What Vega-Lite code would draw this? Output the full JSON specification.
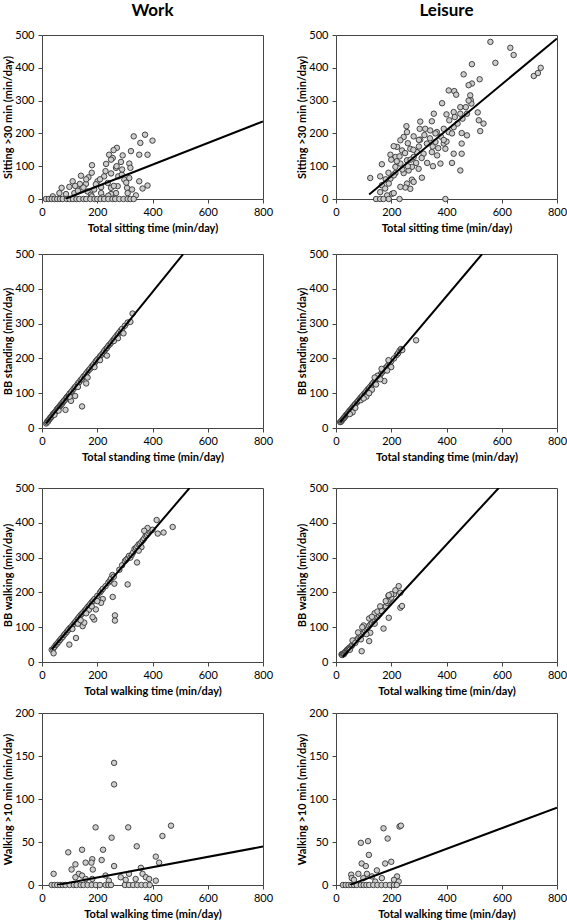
{
"$schema": "https://vega.github.io/schema/vega-lite/v6.json",
"padding": {"left": 2, "top": 1, "right": 0, "bottom": 0},
"autosize": {"type": "pad"},
"config": {
  "font": "Lato",
  "view": {"stroke": "#444", "strokeWidth": 1},
  "axis": {"grid": false, "domain": false, "tickColor": "#444", "tickSize": 4, "labelFontSize": 11, "labelColor": "#000", "titleFontSize": 11, "titleFontWeight": "bold", "titleColor": "#000", "labelPadding": 3, "labelOverlap": false, "labelFlush": false},
  "axisX": {"titlePadding": 5},
  "axisY": {"titlePadding": 1, "labelPadding": 4},
  "title": {"fontSize": 17, "fontWeight": "bold", "color": "#000", "offset": 9}
},
"datasets": {
"lines": [
{"p":1,"x":85,"y":0.6},{"p":1,"x":800,"y":236.6},
{"p":2,"x":120,"y":13.6},{"p":2,"x":800,"y":489.6},
{"p":3,"x":15,"y":13.5},{"p":3,"x":511,"y":499.6},
{"p":4,"x":15,"y":16.8},{"p":4,"x":529,"y":500},
{"p":5,"x":35,"y":35.9},{"p":5,"x":534,"y":500},
{"p":6,"x":25,"y":15},{"p":6,"x":589,"y":500},
{"p":7,"x":55,"y":0.02},{"p":7,"x":800,"y":44.7},
{"p":8,"x":50,"y":0},{"p":8,"x":800,"y":90}
],
"eq": [
{"p":1,"t":"y = -27.42 + 0.33x"},{"p":2,"t":"y = -70.43 + 0.70x"},
{"p":3,"t":"y = -1.21 + 0.98x"},{"p":4,"t":"y = 2.67 + 0.94x"},
{"p":5,"t":"y = 3.34 + 0.93x"},{"p":6,"t":"y = -6.5 + 0.86x"},
{"p":7,"t":"y = -3.28 + 0.06x"},{"p":8,"t":"y = -6.04 + 0.12x"}
],
"pts": [
{"p":1,"x":332,"y":191},{"p":1,"x":373,"y":196},{"p":1,"x":400,"y":178},{"p":1,"x":356,"y":171},{"p":1,"x":352,"y":135},{"p":1,"x":382,"y":135},{"p":1,"x":322,"y":146},{"p":1,"x":271,"y":156},{"p":1,"x":259,"y":149},{"p":1,"x":243,"y":135},{"p":1,"x":256,"y":125},{"p":1,"x":292,"y":133},{"p":1,"x":286,"y":113},{"p":1,"x":316,"y":108},{"p":1,"x":320,"y":95},{"p":1,"x":232,"y":107},{"p":1,"x":181,"y":103},{"p":1,"x":180,"y":80},{"p":1,"x":141,"y":71},{"p":1,"x":111,"y":54},{"p":1,"x":71,"y":34},{"p":1,"x":99,"y":37},{"p":1,"x":137,"y":46},{"p":1,"x":159,"y":46},{"p":1,"x":168,"y":66},{"p":1,"x":201,"y":54},{"p":1,"x":225,"y":69},{"p":1,"x":250,"y":78},{"p":1,"x":268,"y":95},{"p":1,"x":276,"y":69},{"p":1,"x":289,"y":74},{"p":1,"x":298,"y":59},{"p":1,"x":316,"y":64},{"p":1,"x":238,"y":49},{"p":1,"x":214,"y":36},{"p":1,"x":189,"y":29},{"p":1,"x":165,"y":23},{"p":1,"x":141,"y":29},{"p":1,"x":250,"y":34},{"p":1,"x":274,"y":39},{"p":1,"x":308,"y":34},{"p":1,"x":326,"y":29},{"p":1,"x":352,"y":54},{"p":1,"x":382,"y":41},{"p":1,"x":364,"y":32},{"p":1,"x":340,"y":11},{"p":1,"x":310,"y":18},{"p":1,"x":268,"y":18},{"p":1,"x":250,"y":15},{"p":1,"x":214,"y":18},{"p":1,"x":177,"y":13},{"p":1,"x":117,"y":18},{"p":1,"x":87,"y":15},{"p":1,"x":63,"y":18},{"p":1,"x":39,"y":8},{"p":1,"x":250,"y":120},{"p":1,"x":270,"y":100},{"p":1,"x":230,"y":85},{"p":1,"x":210,"y":60},{"p":1,"x":195,"y":45},{"p":1,"x":160,"y":60},{"p":1,"x":150,"y":35},{"p":1,"x":130,"y":25},{"p":1,"x":120,"y":40},{"p":1,"x":290,"y":90},{"p":1,"x":305,"y":50},{"p":1,"x":260,"y":40},{"p":1,"x":240,"y":10},{"p":1,"x":220,"y":5},{"p":1,"x":180,"y":8},
{"p":1,"x":14,"y":0},{"p":1,"x":25,"y":0},{"p":1,"x":35,"y":0},{"p":1,"x":45,"y":0},{"p":1,"x":55,"y":0},{"p":1,"x":65,"y":0},{"p":1,"x":75,"y":0},{"p":1,"x":90,"y":0},{"p":1,"x":100,"y":0},{"p":1,"x":112,"y":0},{"p":1,"x":125,"y":0},{"p":1,"x":135,"y":0},{"p":1,"x":150,"y":0},{"p":1,"x":160,"y":0},{"p":1,"x":175,"y":0},{"p":1,"x":190,"y":0},{"p":1,"x":200,"y":0},{"p":1,"x":212,"y":0},{"p":1,"x":225,"y":0},{"p":1,"x":240,"y":0},{"p":1,"x":255,"y":0},{"p":1,"x":265,"y":0},{"p":1,"x":280,"y":0},{"p":1,"x":295,"y":0},{"p":1,"x":310,"y":0},{"p":1,"x":320,"y":0},{"p":1,"x":332,"y":0},
{"p":2,"x":559,"y":479},{"p":2,"x":631,"y":461},{"p":2,"x":643,"y":439},{"p":2,"x":577,"y":415},{"p":2,"x":492,"y":411},{"p":2,"x":462,"y":380},{"p":2,"x":520,"y":365},{"p":2,"x":492,"y":352},{"p":2,"x":480,"y":347},{"p":2,"x":408,"y":331},{"p":2,"x":428,"y":329},{"p":2,"x":435,"y":318},{"p":2,"x":384,"y":292},{"p":2,"x":486,"y":316},{"p":2,"x":488,"y":301},{"p":2,"x":490,"y":291},{"p":2,"x":716,"y":375},{"p":2,"x":731,"y":384},{"p":2,"x":741,"y":400},{"p":2,"x":513,"y":264},{"p":2,"x":474,"y":260},{"p":2,"x":458,"y":245},{"p":2,"x":426,"y":265},{"p":2,"x":450,"y":280},{"p":2,"x":400,"y":258},{"p":2,"x":354,"y":260},{"p":2,"x":347,"y":237},{"p":2,"x":305,"y":236},{"p":2,"x":303,"y":214},{"p":2,"x":323,"y":214},{"p":2,"x":341,"y":209},{"p":2,"x":365,"y":204},{"p":2,"x":390,"y":214},{"p":2,"x":408,"y":204},{"p":2,"x":426,"y":219},{"p":2,"x":455,"y":201},{"p":2,"x":522,"y":207},{"p":2,"x":534,"y":230},{"p":2,"x":517,"y":240},{"p":2,"x":474,"y":194},{"p":2,"x":455,"y":169},{"p":2,"x":455,"y":138},{"p":2,"x":450,"y":87},{"p":2,"x":420,"y":110},{"p":2,"x":378,"y":108},{"p":2,"x":351,"y":100},{"p":2,"x":390,"y":169},{"p":2,"x":360,"y":174},{"p":2,"x":329,"y":169},{"p":2,"x":305,"y":181},{"p":2,"x":281,"y":191},{"p":2,"x":257,"y":204},{"p":2,"x":255,"y":222},{"p":2,"x":245,"y":189},{"p":2,"x":233,"y":179},{"p":2,"x":221,"y":159},{"p":2,"x":209,"y":161},{"p":2,"x":197,"y":135},{"p":2,"x":215,"y":128},{"p":2,"x":239,"y":148},{"p":2,"x":269,"y":153},{"p":2,"x":293,"y":143},{"p":2,"x":317,"y":138},{"p":2,"x":347,"y":143},{"p":2,"x":366,"y":133},{"p":2,"x":396,"y":153},{"p":2,"x":426,"y":138},{"p":2,"x":281,"y":128},{"p":2,"x":257,"y":118},{"p":2,"x":233,"y":108},{"p":2,"x":215,"y":98},{"p":2,"x":275,"y":98},{"p":2,"x":299,"y":92},{"p":2,"x":311,"y":65},{"p":2,"x":263,"y":87},{"p":2,"x":245,"y":79},{"p":2,"x":197,"y":62},{"p":2,"x":215,"y":79},{"p":2,"x":257,"y":47},{"p":2,"x":275,"y":59},{"p":2,"x":281,"y":52},{"p":2,"x":269,"y":31},{"p":2,"x":251,"y":35},{"p":2,"x":233,"y":37},{"p":2,"x":209,"y":72},{"p":2,"x":166,"y":106},{"p":2,"x":160,"y":69},{"p":2,"x":124,"y":64},{"p":2,"x":166,"y":42},{"p":2,"x":178,"y":32},{"p":2,"x":191,"y":47},{"p":2,"x":203,"y":16},{"p":2,"x":185,"y":11},{"p":2,"x":160,"y":21},{"p":2,"x":209,"y":18},
{"p":2,"x":145,"y":0},{"p":2,"x":160,"y":0},{"p":2,"x":172,"y":0},{"p":2,"x":191,"y":0},{"p":2,"x":230,"y":0},{"p":2,"x":396,"y":0},
{"p":2,"x":300,"y":180},{"p":2,"x":320,"y":195},{"p":2,"x":340,"y":185},{"p":2,"x":360,"y":200},{"p":2,"x":380,"y":190},{"p":2,"x":400,"y":175},{"p":2,"x":420,"y":200},{"p":2,"x":440,"y":230},{"p":2,"x":300,"y":160},{"p":2,"x":280,"y":150},{"p":2,"x":260,"y":170},{"p":2,"x":250,"y":140},{"p":2,"x":230,"y":130},{"p":2,"x":270,"y":120},{"p":2,"x":290,"y":110},{"p":2,"x":310,"y":125},{"p":2,"x":330,"y":110},{"p":2,"x":350,"y":160},{"p":2,"x":370,"y":155},{"p":2,"x":390,"y":180},{"p":2,"x":410,"y":240},{"p":2,"x":430,"y":250},{"p":2,"x":450,"y":260},{"p":2,"x":470,"y":280},{"p":2,"x":480,"y":300},{"p":2,"x":260,"y":100},{"p":2,"x":240,"y":90},{"p":2,"x":220,"y":115},{"p":2,"x":200,"y":120},{"p":2,"x":190,"y":80},{"p":2,"x":180,"y":60},
{"p":3,"x":15,"y":13},{"p":3,"x":18,"y":16},{"p":3,"x":20,"y":20},{"p":3,"x":22,"y":19},{"p":3,"x":25,"y":24},{"p":3,"x":28,"y":26},{"p":3,"x":30,"y":30},{"p":3,"x":33,"y":31},{"p":3,"x":35,"y":33},{"p":3,"x":38,"y":37},{"p":3,"x":40,"y":40},{"p":3,"x":43,"y":41},{"p":3,"x":45,"y":44},{"p":3,"x":48,"y":46},{"p":3,"x":50,"y":48},{"p":3,"x":53,"y":52},{"p":3,"x":55,"y":55},{"p":3,"x":58,"y":56},{"p":3,"x":60,"y":58},{"p":3,"x":63,"y":62},{"p":3,"x":65,"y":63},{"p":3,"x":68,"y":67},{"p":3,"x":70,"y":68},{"p":3,"x":73,"y":70},{"p":3,"x":75,"y":74},{"p":3,"x":78,"y":76},{"p":3,"x":80,"y":79},{"p":3,"x":85,"y":82},{"p":3,"x":88,"y":86},{"p":3,"x":90,"y":89},{"p":3,"x":95,"y":93},{"p":3,"x":98,"y":95},{"p":3,"x":100,"y":99},{"p":3,"x":105,"y":103},{"p":3,"x":110,"y":108},{"p":3,"x":115,"y":113},{"p":3,"x":120,"y":118},{"p":3,"x":125,"y":122},{"p":3,"x":130,"y":128},{"p":3,"x":135,"y":132},{"p":3,"x":140,"y":138},{"p":3,"x":145,"y":142},{"p":3,"x":150,"y":148},{"p":3,"x":155,"y":151},{"p":3,"x":160,"y":157},{"p":3,"x":165,"y":162},{"p":3,"x":170,"y":167},{"p":3,"x":175,"y":171},{"p":3,"x":180,"y":177},{"p":3,"x":185,"y":181},{"p":3,"x":190,"y":186},{"p":3,"x":195,"y":192},{"p":3,"x":200,"y":197},{"p":3,"x":205,"y":200},{"p":3,"x":210,"y":206},{"p":3,"x":215,"y":210},{"p":3,"x":220,"y":215},{"p":3,"x":225,"y":221},{"p":3,"x":230,"y":226},{"p":3,"x":235,"y":230},{"p":3,"x":240,"y":236},{"p":3,"x":245,"y":240},{"p":3,"x":250,"y":245},{"p":3,"x":255,"y":250},{"p":3,"x":260,"y":255},{"p":3,"x":265,"y":260},{"p":3,"x":270,"y":265},{"p":3,"x":275,"y":270},{"p":3,"x":280,"y":275},{"p":3,"x":285,"y":280},{"p":3,"x":290,"y":285},{"p":3,"x":300,"y":294},{"p":3,"x":310,"y":303},{"p":3,"x":320,"y":305},{"p":3,"x":328,"y":329},
{"p":3,"x":145,"y":62},{"p":3,"x":85,"y":52},{"p":3,"x":105,"y":78},{"p":3,"x":120,"y":92},{"p":3,"x":160,"y":128},{"p":3,"x":190,"y":175},{"p":3,"x":235,"y":208},{"p":3,"x":295,"y":272},{"p":3,"x":275,"y":258},{"p":3,"x":165,"y":145},{"p":3,"x":130,"y":118},{"p":3,"x":210,"y":195},{"p":3,"x":260,"y":250},{"p":3,"x":100,"y":90},{"p":3,"x":60,"y":50},{"p":3,"x":45,"y":38},
{"p":4,"x":15,"y":17},{"p":4,"x":18,"y":18},{"p":4,"x":20,"y":21},{"p":4,"x":23,"y":23},{"p":4,"x":25,"y":26},{"p":4,"x":28,"y":29},{"p":4,"x":30,"y":30},{"p":4,"x":33,"y":33},{"p":4,"x":35,"y":36},{"p":4,"x":38,"y":38},{"p":4,"x":40,"y":40},{"p":4,"x":43,"y":43},{"p":4,"x":45,"y":45},{"p":4,"x":48,"y":48},{"p":4,"x":50,"y":50},{"p":4,"x":53,"y":52},{"p":4,"x":55,"y":54},{"p":4,"x":58,"y":57},{"p":4,"x":60,"y":60},{"p":4,"x":63,"y":62},{"p":4,"x":65,"y":64},{"p":4,"x":68,"y":67},{"p":4,"x":70,"y":69},{"p":4,"x":75,"y":73},{"p":4,"x":78,"y":76},{"p":4,"x":80,"y":78},{"p":4,"x":85,"y":83},{"p":4,"x":88,"y":85},{"p":4,"x":90,"y":88},{"p":4,"x":95,"y":92},{"p":4,"x":100,"y":97},{"p":4,"x":105,"y":101},{"p":4,"x":110,"y":106},{"p":4,"x":115,"y":111},{"p":4,"x":120,"y":115},{"p":4,"x":125,"y":120},{"p":4,"x":130,"y":125},{"p":4,"x":135,"y":130},{"p":4,"x":140,"y":135},{"p":4,"x":145,"y":140},{"p":4,"x":150,"y":145},{"p":4,"x":155,"y":148},{"p":4,"x":160,"y":153},{"p":4,"x":165,"y":158},{"p":4,"x":170,"y":163},{"p":4,"x":175,"y":168},{"p":4,"x":180,"y":173},{"p":4,"x":185,"y":177},{"p":4,"x":190,"y":182},{"p":4,"x":195,"y":187},{"p":4,"x":200,"y":192},{"p":4,"x":210,"y":200},{"p":4,"x":220,"y":210},{"p":4,"x":225,"y":215},{"p":4,"x":230,"y":222},{"p":4,"x":235,"y":227},{"p":4,"x":240,"y":224},{"p":4,"x":290,"y":252},
{"p":4,"x":175,"y":135},{"p":4,"x":130,"y":110},{"p":4,"x":110,"y":90},{"p":4,"x":90,"y":80},{"p":4,"x":60,"y":45},{"p":4,"x":200,"y":175},{"p":4,"x":185,"y":165},{"p":4,"x":160,"y":140},{"p":4,"x":145,"y":125},{"p":4,"x":120,"y":100},{"p":4,"x":100,"y":85},{"p":4,"x":70,"y":58},{"p":4,"x":50,"y":40},{"p":4,"x":150,"y":150},{"p":4,"x":140,"y":145},{"p":4,"x":165,"y":170},{"p":4,"x":190,"y":195},
{"p":5,"x":35,"y":35},{"p":5,"x":40,"y":38},{"p":5,"x":42,"y":25},{"p":5,"x":45,"y":43},{"p":5,"x":50,"y":49},{"p":5,"x":55,"y":53},{"p":5,"x":60,"y":58},{"p":5,"x":65,"y":63},{"p":5,"x":70,"y":68},{"p":5,"x":75,"y":72},{"p":5,"x":80,"y":78},{"p":5,"x":85,"y":82},{"p":5,"x":90,"y":87},{"p":5,"x":95,"y":92},{"p":5,"x":100,"y":97},{"p":5,"x":105,"y":100},{"p":5,"x":110,"y":105},{"p":5,"x":115,"y":110},{"p":5,"x":120,"y":115},{"p":5,"x":125,"y":120},{"p":5,"x":130,"y":125},{"p":5,"x":135,"y":130},{"p":5,"x":140,"y":135},{"p":5,"x":145,"y":139},{"p":5,"x":150,"y":143},{"p":5,"x":155,"y":148},{"p":5,"x":160,"y":152},{"p":5,"x":165,"y":158},{"p":5,"x":170,"y":162},{"p":5,"x":175,"y":167},{"p":5,"x":180,"y":172},{"p":5,"x":185,"y":176},{"p":5,"x":190,"y":181},{"p":5,"x":200,"y":190},{"p":5,"x":210,"y":200},{"p":5,"x":215,"y":205},{"p":5,"x":220,"y":210},{"p":5,"x":230,"y":218},{"p":5,"x":240,"y":228},{"p":5,"x":245,"y":233},{"p":5,"x":250,"y":240},{"p":5,"x":255,"y":250},{"p":5,"x":260,"y":245},{"p":5,"x":280,"y":265},{"p":5,"x":290,"y":278},{"p":5,"x":300,"y":290},{"p":5,"x":305,"y":294},{"p":5,"x":310,"y":298},{"p":5,"x":315,"y":305},{"p":5,"x":320,"y":300},{"p":5,"x":325,"y":308},{"p":5,"x":330,"y":315},{"p":5,"x":335,"y":325},{"p":5,"x":340,"y":328},{"p":5,"x":345,"y":332},{"p":5,"x":350,"y":338},{"p":5,"x":355,"y":340},{"p":5,"x":360,"y":345},{"p":5,"x":365,"y":350},{"p":5,"x":370,"y":355},{"p":5,"x":375,"y":362},{"p":5,"x":380,"y":365},{"p":5,"x":385,"y":370},{"p":5,"x":390,"y":375},{"p":5,"x":395,"y":378},{"p":5,"x":400,"y":380},
{"p":5,"x":415,"y":408},{"p":5,"x":473,"y":388},{"p":5,"x":440,"y":372},{"p":5,"x":419,"y":369},{"p":5,"x":382,"y":385},{"p":5,"x":370,"y":377},{"p":5,"x":344,"y":286},{"p":5,"x":310,"y":223},{"p":5,"x":256,"y":187},{"p":5,"x":262,"y":225},{"p":5,"x":264,"y":134},{"p":5,"x":264,"y":119},{"p":5,"x":220,"y":181},{"p":5,"x":214,"y":170},{"p":5,"x":189,"y":122},{"p":5,"x":183,"y":129},{"p":5,"x":147,"y":103},{"p":5,"x":153,"y":113},{"p":5,"x":123,"y":69},{"p":5,"x":99,"y":50},{"p":5,"x":195,"y":151},{"p":5,"x":170,"y":150},{"p":5,"x":160,"y":140},{"p":5,"x":180,"y":160},{"p":5,"x":200,"y":175},{"p":5,"x":130,"y":110},{"p":5,"x":110,"y":95},{"p":5,"x":140,"y":120},{"p":5,"x":360,"y":330},{"p":5,"x":350,"y":320},
{"p":6,"x":20,"y":22},{"p":6,"x":22,"y":20},{"p":6,"x":25,"y":24},{"p":6,"x":28,"y":22},{"p":6,"x":30,"y":25},{"p":6,"x":33,"y":28},{"p":6,"x":35,"y":30},{"p":6,"x":38,"y":32},{"p":6,"x":40,"y":35},{"p":6,"x":43,"y":36},{"p":6,"x":45,"y":38},{"p":6,"x":48,"y":40},{"p":6,"x":50,"y":42},{"p":6,"x":55,"y":45},{"p":6,"x":58,"y":48},{"p":6,"x":60,"y":50},{"p":6,"x":65,"y":55},{"p":6,"x":68,"y":57},{"p":6,"x":70,"y":60},{"p":6,"x":75,"y":64},{"p":6,"x":80,"y":68},{"p":6,"x":85,"y":72},{"p":6,"x":90,"y":76},{"p":6,"x":95,"y":80},{"p":6,"x":100,"y":85},{"p":6,"x":105,"y":90},{"p":6,"x":110,"y":95},{"p":6,"x":115,"y":100},{"p":6,"x":120,"y":104},{"p":6,"x":125,"y":108},{"p":6,"x":130,"y":112},{"p":6,"x":135,"y":118},{"p":6,"x":140,"y":122},{"p":6,"x":145,"y":128},{"p":6,"x":150,"y":130},{"p":6,"x":155,"y":135},{"p":6,"x":160,"y":140},{"p":6,"x":165,"y":145},{"p":6,"x":170,"y":150},{"p":6,"x":175,"y":155},{"p":6,"x":180,"y":160},{"p":6,"x":185,"y":170},{"p":6,"x":190,"y":175},{"p":6,"x":195,"y":180},{"p":6,"x":200,"y":185},{"p":6,"x":210,"y":195},
{"p":6,"x":60,"y":62},{"p":6,"x":80,"y":85},{"p":6,"x":100,"y":105},{"p":6,"x":120,"y":125},{"p":6,"x":140,"y":140},{"p":6,"x":160,"y":160},{"p":6,"x":180,"y":175},{"p":6,"x":190,"y":190},{"p":6,"x":200,"y":195},{"p":6,"x":95,"y":100},{"p":6,"x":130,"y":130},{"p":6,"x":150,"y":145},
{"p":6,"x":227,"y":218},{"p":6,"x":215,"y":206},{"p":6,"x":233,"y":199},{"p":6,"x":233,"y":156},{"p":6,"x":239,"y":161},{"p":6,"x":191,"y":127},{"p":6,"x":172,"y":96},{"p":6,"x":120,"y":60},{"p":6,"x":93,"y":31},{"p":6,"x":124,"y":84},{"p":6,"x":166,"y":146},{"p":6,"x":191,"y":192},{"p":6,"x":110,"y":80},{"p":6,"x":140,"y":110},{"p":6,"x":90,"y":65},{"p":6,"x":70,"y":55},{"p":6,"x":50,"y":35},
{"p":7,"x":261,"y":142},{"p":7,"x":261,"y":117},{"p":7,"x":194,"y":67},{"p":7,"x":312,"y":67},{"p":7,"x":467,"y":69},{"p":7,"x":436,"y":57},{"p":7,"x":252,"y":55},{"p":7,"x":343,"y":45},{"p":7,"x":95,"y":38},{"p":7,"x":145,"y":41},{"p":7,"x":221,"y":41},{"p":7,"x":121,"y":24},{"p":7,"x":182,"y":30},{"p":7,"x":179,"y":26},{"p":7,"x":216,"y":29},{"p":7,"x":158,"y":26},{"p":7,"x":261,"y":22},{"p":7,"x":42,"y":13},{"p":7,"x":107,"y":18},{"p":7,"x":184,"y":18},{"p":7,"x":412,"y":33},{"p":7,"x":424,"y":26},{"p":7,"x":358,"y":20},{"p":7,"x":133,"y":13},{"p":7,"x":145,"y":11},{"p":7,"x":230,"y":11},{"p":7,"x":285,"y":9},{"p":7,"x":315,"y":13},{"p":7,"x":364,"y":13},{"p":7,"x":376,"y":9},{"p":7,"x":388,"y":7},{"p":7,"x":412,"y":5},{"p":7,"x":339,"y":7},{"p":7,"x":303,"y":6},{"p":7,"x":182,"y":7},{"p":7,"x":158,"y":7},{"p":7,"x":121,"y":9},{"p":7,"x":242,"y":5},
{"p":7,"x":35,"y":0},{"p":7,"x":45,"y":0},{"p":7,"x":55,"y":0},{"p":7,"x":65,"y":0},{"p":7,"x":75,"y":0},{"p":7,"x":85,"y":0},{"p":7,"x":100,"y":0},{"p":7,"x":115,"y":0},{"p":7,"x":125,"y":0},{"p":7,"x":140,"y":0},{"p":7,"x":150,"y":0},{"p":7,"x":165,"y":0},{"p":7,"x":180,"y":0},{"p":7,"x":195,"y":0},{"p":7,"x":210,"y":0},{"p":7,"x":230,"y":0},{"p":7,"x":240,"y":0},{"p":7,"x":250,"y":0},{"p":7,"x":300,"y":0},{"p":7,"x":315,"y":0},{"p":7,"x":330,"y":0},{"p":7,"x":345,"y":0},{"p":7,"x":360,"y":0},{"p":7,"x":375,"y":0},{"p":7,"x":390,"y":0},
{"p":8,"x":172,"y":66},{"p":8,"x":230,"y":68},{"p":8,"x":235,"y":69},{"p":8,"x":90,"y":49},{"p":8,"x":116,"y":51},{"p":8,"x":187,"y":54},{"p":8,"x":119,"y":35},{"p":8,"x":93,"y":25},{"p":8,"x":108,"y":22},{"p":8,"x":178,"y":25},{"p":8,"x":200,"y":27},{"p":8,"x":55,"y":12},{"p":8,"x":81,"y":13},{"p":8,"x":112,"y":13},{"p":8,"x":148,"y":17},{"p":8,"x":221,"y":10},{"p":8,"x":210,"y":6},{"p":8,"x":57,"y":8},{"p":8,"x":130,"y":10},{"p":8,"x":166,"y":8},{"p":8,"x":65,"y":6},{"p":8,"x":99,"y":8},{"p":8,"x":142,"y":4},{"p":8,"x":227,"y":4},
{"p":8,"x":25,"y":0},{"p":8,"x":35,"y":0},{"p":8,"x":45,"y":0},{"p":8,"x":55,"y":0},{"p":8,"x":65,"y":0},{"p":8,"x":75,"y":0},{"p":8,"x":90,"y":0},{"p":8,"x":100,"y":0},{"p":8,"x":110,"y":0},{"p":8,"x":120,"y":0},{"p":8,"x":135,"y":0},{"p":8,"x":150,"y":0},{"p":8,"x":165,"y":0},{"p":8,"x":180,"y":0},{"p":8,"x":195,"y":0},{"p":8,"x":210,"y":0},{"p":8,"x":220,"y":0}
]
},
"spacing": 13,
"vconcat": [
{"hconcat": [
 {"width": 221, "height": 164, "title": "Work",
  "encoding": {"x": {"field": "x", "type": "quantitative", "scale": {"domain": [0, 800], "nice": false}, "axis": {"values": [0,200,400,600,800], "title": "Total sitting time (min/day)"}},
               "y": {"field": "y", "type": "quantitative", "scale": {"domain": [0, 500], "nice": false}, "axis": {"values": [0,100,200,300,400,500], "title": "Sitting >30 min (min/day)"}}},
  "layer": [
   {"data": {"name": "pts"}, "transform": [{"filter": "datum.p == 1"}], "mark": {"type": "circle", "size": 30, "fill": "#cdcdcd", "stroke": "#333", "strokeWidth": 0.9, "opacity": 1}},
   {"data": {"name": "lines"}, "transform": [{"filter": "datum.p == 1"}], "mark": {"type": "line", "color": "#000", "strokeWidth": 2, "clip": true}},
   {"data": {"name": "eq"}, "transform": [{"filter": "datum.p == 1"}], "mark": {"type": "text", "align": "left", "baseline": "middle", "fontSize": 12, "color": "#000"},
    "encoding": {"x": {"datum": 40, "type": "quantitative", "axis": {"values": [0,200,400,600,800], "title": "Total sitting time (min/day)"}}, "y": {"datum": 445, "type": "quantitative", "axis": {"values": [0,100,200,300,400,500], "title": "Sitting >30 min (min/day)"}}, "text": {"field": "t"}}}
  ]},
 {"width": 221, "height": 164, "title": "Leisure",
  "encoding": {"x": {"field": "x", "type": "quantitative", "scale": {"domain": [0, 800], "nice": false}, "axis": {"values": [0,200,400,600,800], "title": "Total sitting time (min/day)"}},
               "y": {"field": "y", "type": "quantitative", "scale": {"domain": [0, 500], "nice": false}, "axis": {"values": [0,100,200,300,400,500], "title": "Sitting >30 min (min/day)"}}},
  "layer": [
   {"data": {"name": "pts"}, "transform": [{"filter": "datum.p == 2"}], "mark": {"type": "circle", "size": 30, "fill": "#cdcdcd", "stroke": "#333", "strokeWidth": 0.9, "opacity": 1}},
   {"data": {"name": "lines"}, "transform": [{"filter": "datum.p == 2"}], "mark": {"type": "line", "color": "#000", "strokeWidth": 2, "clip": true}},
   {"data": {"name": "eq"}, "transform": [{"filter": "datum.p == 2"}], "mark": {"type": "text", "align": "left", "baseline": "middle", "fontSize": 12, "color": "#000"},
    "encoding": {"x": {"datum": 40, "type": "quantitative", "axis": {"values": [0,200,400,600,800], "title": "Total sitting time (min/day)"}}, "y": {"datum": 445, "type": "quantitative", "axis": {"values": [0,100,200,300,400,500], "title": "Sitting >30 min (min/day)"}}, "text": {"field": "t"}}}
  ]}
], "spacing": 22},
{"spacing": 18, "vconcat": [
{"hconcat": [
 {"width": 221, "height": 174,
  "encoding": {"x": {"field": "x", "type": "quantitative", "scale": {"domain": [0, 800], "nice": false}, "axis": {"values": [0,200,400,600,800], "title": "Total standing time (min/day)"}},
               "y": {"field": "y", "type": "quantitative", "scale": {"domain": [0, 500], "nice": false}, "axis": {"values": [0,100,200,300,400,500], "title": "BB standing (min/day)"}}},
  "layer": [
   {"data": {"name": "pts"}, "transform": [{"filter": "datum.p == 3"}], "mark": {"type": "circle", "size": 30, "fill": "#cdcdcd", "stroke": "#333", "strokeWidth": 0.9, "opacity": 1}},
   {"data": {"name": "lines"}, "transform": [{"filter": "datum.p == 3"}], "mark": {"type": "line", "color": "#000", "strokeWidth": 2, "clip": true}},
   {"data": {"name": "eq"}, "transform": [{"filter": "datum.p == 3"}], "mark": {"type": "text", "align": "left", "baseline": "middle", "fontSize": 12, "color": "#000"},
    "encoding": {"x": {"datum": 40, "type": "quantitative", "axis": {"values": [0,200,400,600,800], "title": "Total standing time (min/day)"}}, "y": {"datum": 445, "type": "quantitative", "axis": {"values": [0,100,200,300,400,500], "title": "BB standing (min/day)"}}, "text": {"field": "t"}}}
  ]},
 {"width": 221, "height": 174,
  "encoding": {"x": {"field": "x", "type": "quantitative", "scale": {"domain": [0, 800], "nice": false}, "axis": {"values": [0,200,400,600,800], "title": "Total standing time (min/day)"}},
               "y": {"field": "y", "type": "quantitative", "scale": {"domain": [0, 500], "nice": false}, "axis": {"values": [0,100,200,300,400,500], "title": "BB standing (min/day)"}}},
  "layer": [
   {"data": {"name": "pts"}, "transform": [{"filter": "datum.p == 4"}], "mark": {"type": "circle", "size": 30, "fill": "#cdcdcd", "stroke": "#333", "strokeWidth": 0.9, "opacity": 1}},
   {"data": {"name": "lines"}, "transform": [{"filter": "datum.p == 4"}], "mark": {"type": "line", "color": "#000", "strokeWidth": 2, "clip": true}},
   {"data": {"name": "eq"}, "transform": [{"filter": "datum.p == 4"}], "mark": {"type": "text", "align": "left", "baseline": "middle", "fontSize": 12, "color": "#000"},
    "encoding": {"x": {"datum": 40, "type": "quantitative", "axis": {"values": [0,200,400,600,800], "title": "Total standing time (min/day)"}}, "y": {"datum": 445, "type": "quantitative", "axis": {"values": [0,100,200,300,400,500], "title": "BB standing (min/day)"}}, "text": {"field": "t"}}}
  ]}
], "spacing": 22},
{"spacing": 9, "vconcat": [
{"hconcat": [
 {"width": 221, "height": 174,
  "encoding": {"x": {"field": "x", "type": "quantitative", "scale": {"domain": [0, 800], "nice": false}, "axis": {"values": [0,200,400,600,800], "title": "Total walking time (min/day)"}},
               "y": {"field": "y", "type": "quantitative", "scale": {"domain": [0, 500], "nice": false}, "axis": {"values": [0,100,200,300,400,500], "title": "BB walking (min/day)"}}},
  "layer": [
   {"data": {"name": "pts"}, "transform": [{"filter": "datum.p == 5"}], "mark": {"type": "circle", "size": 30, "fill": "#cdcdcd", "stroke": "#333", "strokeWidth": 0.9, "opacity": 1}},
   {"data": {"name": "lines"}, "transform": [{"filter": "datum.p == 5"}], "mark": {"type": "line", "color": "#000", "strokeWidth": 2, "clip": true}},
   {"data": {"name": "eq"}, "transform": [{"filter": "datum.p == 5"}], "mark": {"type": "text", "align": "left", "baseline": "middle", "fontSize": 12, "color": "#000"},
    "encoding": {"x": {"datum": 40, "type": "quantitative", "axis": {"values": [0,200,400,600,800], "title": "Total walking time (min/day)"}}, "y": {"datum": 445, "type": "quantitative", "axis": {"values": [0,100,200,300,400,500], "title": "BB walking (min/day)"}}, "text": {"field": "t"}}}
  ]},
 {"width": 221, "height": 174,
  "encoding": {"x": {"field": "x", "type": "quantitative", "scale": {"domain": [0, 800], "nice": false}, "axis": {"values": [0,200,400,600,800], "title": "Total walking time (min/day)"}},
               "y": {"field": "y", "type": "quantitative", "scale": {"domain": [0, 500], "nice": false}, "axis": {"values": [0,100,200,300,400,500], "title": "BB walking (min/day)"}}},
  "layer": [
   {"data": {"name": "pts"}, "transform": [{"filter": "datum.p == 6"}], "mark": {"type": "circle", "size": 30, "fill": "#cdcdcd", "stroke": "#333", "strokeWidth": 0.9, "opacity": 1}},
   {"data": {"name": "lines"}, "transform": [{"filter": "datum.p == 6"}], "mark": {"type": "line", "color": "#000", "strokeWidth": 2, "clip": true}},
   {"data": {"name": "eq"}, "transform": [{"filter": "datum.p == 6"}], "mark": {"type": "text", "align": "left", "baseline": "middle", "fontSize": 12, "color": "#000"},
    "encoding": {"x": {"datum": 40, "type": "quantitative", "axis": {"values": [0,200,400,600,800], "title": "Total walking time (min/day)"}}, "y": {"datum": 445, "type": "quantitative", "axis": {"values": [0,100,200,300,400,500], "title": "BB walking (min/day)"}}, "text": {"field": "t"}}}
  ]}
], "spacing": 22},
{"hconcat": [
 {"width": 221, "height": 172,
  "encoding": {"x": {"field": "x", "type": "quantitative", "scale": {"domain": [0, 800], "nice": false}, "axis": {"values": [0,200,400,600,800], "title": "Total walking time (min/day)"}},
               "y": {"field": "y", "type": "quantitative", "scale": {"domain": [0, 200], "nice": false}, "axis": {"values": [0,50,100,150,200], "title": "Walking >10 min (min/day)"}}},
  "layer": [
   {"data": {"name": "pts"}, "transform": [{"filter": "datum.p == 7"}], "mark": {"type": "circle", "size": 30, "fill": "#cdcdcd", "stroke": "#333", "strokeWidth": 0.9, "opacity": 1}},
   {"data": {"name": "lines"}, "transform": [{"filter": "datum.p == 7"}], "mark": {"type": "line", "color": "#000", "strokeWidth": 2, "clip": true}},
   {"data": {"name": "eq"}, "transform": [{"filter": "datum.p == 7"}], "mark": {"type": "text", "align": "left", "baseline": "middle", "fontSize": 12, "color": "#000"},
    "encoding": {"x": {"datum": 40, "type": "quantitative", "axis": {"values": [0,200,400,600,800], "title": "Total walking time (min/day)"}}, "y": {"datum": 182, "type": "quantitative", "axis": {"values": [0,50,100,150,200], "title": "Walking >10 min (min/day)"}}, "text": {"field": "t"}}}
  ]},
 {"width": 221, "height": 172,
  "encoding": {"x": {"field": "x", "type": "quantitative", "scale": {"domain": [0, 800], "nice": false}, "axis": {"values": [0,200,400,600,800], "title": "Total walking time (min/day)"}},
               "y": {"field": "y", "type": "quantitative", "scale": {"domain": [0, 200], "nice": false}, "axis": {"values": [0,50,100,150,200], "title": "Walking >10 min (min/day)"}}},
  "layer": [
   {"data": {"name": "pts"}, "transform": [{"filter": "datum.p == 8"}], "mark": {"type": "circle", "size": 30, "fill": "#cdcdcd", "stroke": "#333", "strokeWidth": 0.9, "opacity": 1}},
   {"data": {"name": "lines"}, "transform": [{"filter": "datum.p == 8"}], "mark": {"type": "line", "color": "#000", "strokeWidth": 2, "clip": true}},
   {"data": {"name": "eq"}, "transform": [{"filter": "datum.p == 8"}], "mark": {"type": "text", "align": "left", "baseline": "middle", "fontSize": 12, "color": "#000"},
    "encoding": {"x": {"datum": 40, "type": "quantitative", "axis": {"values": [0,200,400,600,800], "title": "Total walking time (min/day)"}}, "y": {"datum": 182, "type": "quantitative", "axis": {"values": [0,50,100,150,200], "title": "Walking >10 min (min/day)"}}, "text": {"field": "t"}}}
  ]}
], "spacing": 22}
]}
]}
]
}
